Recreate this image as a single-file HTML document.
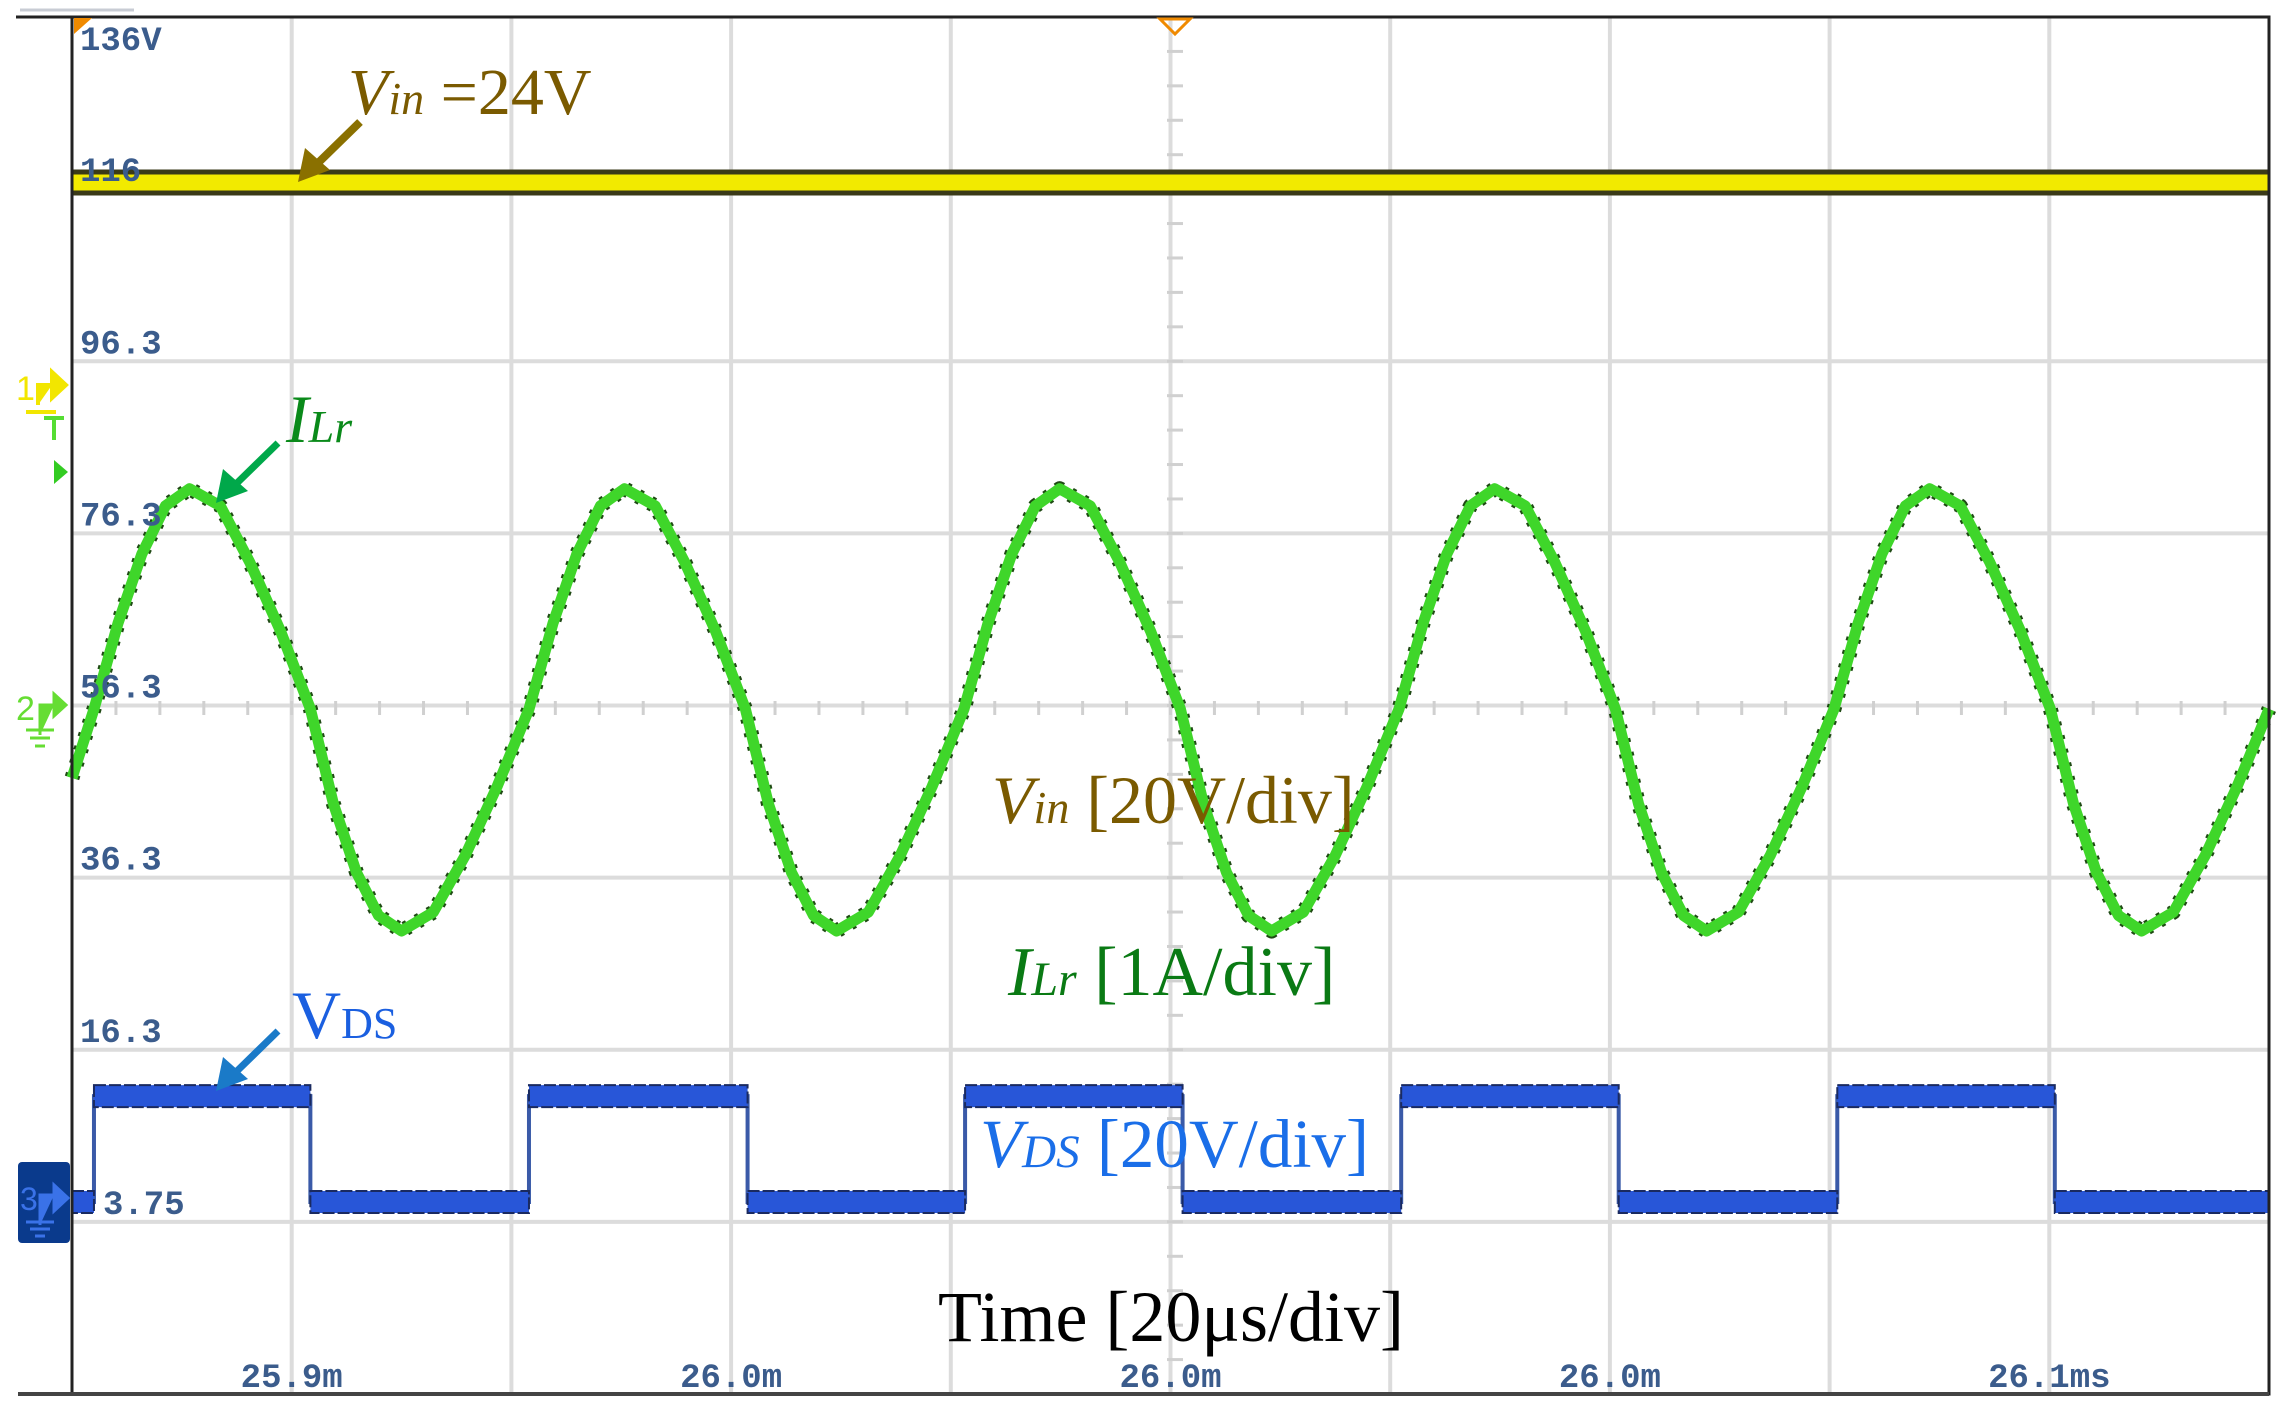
<!DOCTYPE html>
<html><head><meta charset="utf-8"><style>
html,body{margin:0;padding:0;background:#fff}
svg{display:block}
.ax{font-family:"Liberation Mono",monospace;font-weight:bold;font-size:34px;fill:#3b5c8c}
.ann{font-family:"Liberation Serif",serif}
</style></head><body>
<svg id="scope" width="2291" height="1422" viewBox="0 0 2291 1422" xmlns="http://www.w3.org/2000/svg">
<rect width="2291" height="1422" fill="#fff"/>
<line x1="20" y1="10" x2="134" y2="10" stroke="#c8ccd4" stroke-width="3"/>
<g id="grid"></g>
<g id="ticks"></g>
<g id="traces"></g>
<g id="labels"></g>
<rect x="72" y="17" width="2197" height="1377" fill="none" stroke="#222" stroke-width="3"/>
<line x1="16" y1="17" x2="2269" y2="17" stroke="#222" stroke-width="3"/>
<line x1="18" y1="1394" x2="2269" y2="1394" stroke="#444" stroke-width="4"/>
<polygon points="74,18 92,18 74,34" fill="#f08a00"/>
<polygon points="1160,19 1190,19 1175,34" fill="none" stroke="#f08a00" stroke-width="3"/>
<g>
<text x="16" y="400" font-family="Liberation Sans,sans-serif" font-size="34" fill="#f2e600">1</text>
<path d="M38 405 V385 H52 M52 372 L66 385 L52 398 Z" stroke="#f2e600" stroke-width="4" fill="#f2e600"/>
<line x1="26" y1="412" x2="56" y2="412" stroke="#f2e600" stroke-width="4"/>
</g>
<g>
<path d="M44 418 H64 M54 418 V440" stroke="#55dd33" stroke-width="4"/>
<polygon points="54,460 68,472 54,484" fill="#33cc22"/>
</g>
<g>
<text x="16" y="720" font-family="Liberation Sans,sans-serif" font-size="34" fill="#66dd33">2</text>
<path d="M40 735 V705 H54 M54 694 L66 705 L54 716 Z" stroke="#66dd33" stroke-width="3" fill="#66dd33"/>
<path d="M26 730 H54 M30 738 H50 M35 746 H45" stroke="#66dd33" stroke-width="3"/>
</g>
<g>
<rect x="18" y="1162" width="52" height="81" rx="4" fill="#0a3a8c"/>
<text x="20" y="1210" font-family="Liberation Sans,sans-serif" font-size="32" fill="#3a72e8">3</text>
<path d="M40 1225 V1195 H54 M54 1185 L68 1198 L54 1211 Z" stroke="#3a72e8" stroke-width="3" fill="#3a72e8"/>
<path d="M26 1222 H54 M30 1229 H50 M35 1236 H45" stroke="#3a72e8" stroke-width="3"/>
</g>
<text class="ann" x="348" y="114" font-size="66" fill="#7a5a00"><tspan font-style="italic">V</tspan><tspan font-style="italic" font-size="46">in</tspan> =24V</text>
<g><line x1="360" y1="122" x2="318" y2="163" stroke="#8a7000" stroke-width="8"/><polygon points="298,182 305,148 330,170" fill="#8a7000"/></g>
<text class="ann" x="286" y="442" font-size="68" fill="#0a8a1a" font-style="italic">I<tspan font-size="46">Lr</tspan></text>
<g><line x1="278" y1="443" x2="236" y2="484" stroke="#00a84a" stroke-width="7"/><polygon points="216,503 223,469 248,491" fill="#00a84a"/></g>
<text class="ann" x="292" y="1038" font-size="68" fill="#1a5fe0">V<tspan font-size="44">DS</tspan></text>
<g><line x1="278" y1="1031" x2="236" y2="1072" stroke="#1a7ac8" stroke-width="7"/><polygon points="216,1091 223,1057 248,1079" fill="#1a7ac8"/></g>
<text class="ann" x="992" y="823" font-size="68" fill="#7a5a00"><tspan font-style="italic">V</tspan><tspan font-style="italic" font-size="46">in</tspan> [20V/div]</text>
<text class="ann" x="1008" y="995" font-size="70" fill="#0a7a14"><tspan font-style="italic">I</tspan><tspan font-style="italic" font-size="48">Lr</tspan> [1A/div]</text>
<text class="ann" x="980" y="1167" font-size="69" fill="#1a6ee8"><tspan font-style="italic">V</tspan><tspan font-style="italic" font-size="47">DS</tspan> [20V/div]</text>
<text class="ann" x="938" y="1341" font-size="72" fill="#000">Time [20μs/div]</text>
</svg>
<script>
var yLabels = ["136V","116","96.3","76.3","56.3","36.3","16.3","3.75"];
var xLabels = ["25.9m","26.0m","26.0m","26.0m","26.1ms"];
var vinLevel = 24;
var ilrT = [0,2.0,4.2,6.35,8.5,10.7,13.5,16.2,19.0,21.7,23.8,25.9,27.9,30.0,32.9,35.8,38.7,
41.6,43.8,45.95,48.1,50.3,53.1,55.8,58.6,61.3,63.4,65.5,67.5,69.6,72.5,75.4,78.3,
81.2,83.4,85.55,87.7,89.9,92.7,95.4,98.2,100.9,103.0,105.1,107.1,109.2,112.1,115.0,117.9,
120.8,123.0,125.15,127.3,129.5,132.3,135.0,137.8,140.5,142.6,144.7,146.7,148.8,151.7,154.6,157.5,
160.4,162.6,164.75,166.9,169.1,171.9,174.6,177.4,180.1,182.2,184.3,186.3,188.4,191.3,194.2,197.1,200];
var ilrA = [-0.4,0,0.5,0.9,1.18,1.28,1.18,0.85,0.45,0,-0.55,-0.95,-1.2,-1.29,-1.18,-0.85,-0.45,
0,0.5,0.9,1.18,1.28,1.18,0.85,0.45,0,-0.55,-0.95,-1.2,-1.29,-1.18,-0.85,-0.45,
0,0.5,0.9,1.18,1.28,1.18,0.85,0.45,0,-0.55,-0.95,-1.2,-1.29,-1.18,-0.85,-0.45,
0,0.5,0.9,1.18,1.28,1.18,0.85,0.45,0,-0.55,-0.95,-1.2,-1.29,-1.18,-0.85,-0.45,
0,0.5,0.9,1.18,1.28,1.18,0.85,0.45,0,-0.55,-0.95,-1.2,-1.29,-1.18,-0.85,-0.45,0];
var vdsT = [0,2.0,21.7,41.6,61.5,81.3,101.1,121.0,140.8,160.7,180.5];
var vdsV = [0,12.3,0,12.3,0,12.3,0,12.3,0,12.3,0];

var X0=72, X1=2269, Y0=17, Y1=1394, DIVX=(X1-X0)/10, DIVY=(Y1-Y0)/8;
function xT(t){return X0 + t/20*DIVX;}
function yI(a){return 709 - a*DIVY;}
function yVin(v){return 389 - v/20*DIVY;}
function yVds(v){return 1202 - v/20*DIVY;}
var NS="http://www.w3.org/2000/svg";
function mk(tag,attrs,parent){var e=document.createElementNS(NS,tag);for(var k in attrs)e.setAttribute(k,attrs[k]);parent.appendChild(e);return e;}

var grid=document.getElementById('grid');
for(var i=1;i<10;i++){var g=mk('line',{x1:xT(i*20),x2:xT(i*20),y1:Y0,y2:Y1,stroke:'#dcdcdc','stroke-width':4},grid);

}
for(var j=1;j<8;j++){var h=mk('line',{x1:X0,x2:X1,y1:Y0+j*DIVY,y2:Y0+j*DIVY,stroke:'#dcdcdc','stroke-width':4},grid);

}
var tk=document.getElementById('ticks');
for(var m=1;m<50;m++){var xx=X0+m*DIVX/5;var a=mk('line',{x1:xx,x2:xx,y1:701,y2:715,stroke:'#d0d0d0','stroke-width':3},tk);

}
for(var n=1;n<40;n++){var yy=Y0+n*DIVY/5;var b=mk('line',{x1:1167,x2:1183,y1:yy,y2:yy,stroke:'#d0d0d0','stroke-width':3},tk);

}

var tr=document.getElementById('traces');
var vy=yVin(vinLevel);
var v1=mk('line',{x1:X0,x2:X1,y1:vy,y2:vy,stroke:'#3a3a18','stroke-width':26},tr);


var v2=mk('line',{x1:X0,x2:X1,y1:vy,y2:vy,stroke:'#f2ea00','stroke-width':16},tr);


var d='';for(var p=0;p<ilrT.length;p++){d+=(p?'L':'M')+xT(ilrT[p]).toFixed(1)+' '+yI(ilrA[p]).toFixed(1);}
var g1=mk('path',{d:d,fill:'none',stroke:'#1f4a14','stroke-width':15,'stroke-linejoin':'round','stroke-dasharray':'4 10'},tr);


var g2=mk('path',{d:d,fill:'none',stroke:'#3fd62a','stroke-width':11,'stroke-linejoin':'round'},tr);


var dv='';for(var q=0;q<vdsT.length;q++){var x=xT(vdsT[q]);var y=yVds(vdsV[q]);
if(q==0)dv+='M'+x+' '+y;else dv+='L'+x+' '+yVds(vdsV[q-1])+'L'+x+' '+y;}
dv+='L'+X1+' '+yVds(vdsV[vdsV.length-1]);
var b0=mk('path',{d:dv,fill:'none',stroke:'#3a5aa8','stroke-width':4},tr);


for(var r=0;r<vdsT.length;r++){var xs=xT(vdsT[r]);var xe=r+1<vdsT.length?xT(vdsT[r+1]):X1;var yv=yVds(vdsV[r]);
var s1=mk('rect',{x:xs,y:yv-11,width:xe-xs,height:22,fill:'#2856d8',stroke:'#1a2a60','stroke-width':2,'stroke-dasharray':'12 3'},tr);

}

var lb=document.getElementById('labels');
for(var k=0;k<yLabels.length;k++){var lx=k==7?103:80;var ly=k==0?50:Y0+k*DIVY-8;
var t=mk('text',{x:lx,y:ly,'class':'ax'},lb);t.textContent=yLabels[k];

}
for(var u=0;u<xLabels.length;u++){var cx=xT(40*u+20);
var t2=mk('text',{x:cx,y:1387,'class':'ax','text-anchor':'middle'},lb);t2.textContent=xLabels[u];

}
</script>
</body></html>
